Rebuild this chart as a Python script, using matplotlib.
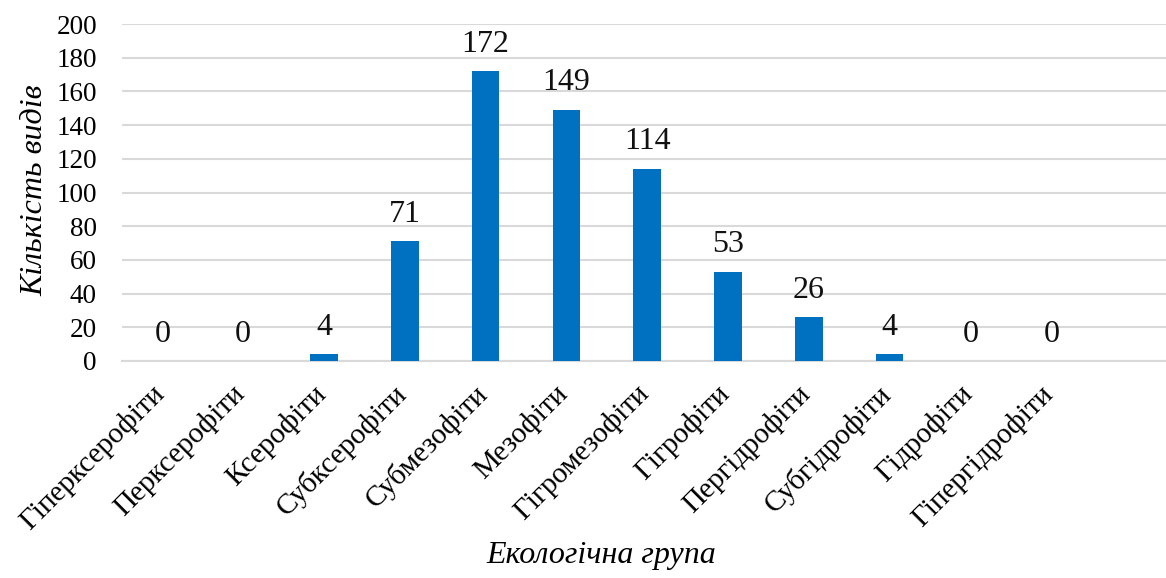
import matplotlib
matplotlib.use("Agg")
import matplotlib.pyplot as plt
from matplotlib.transforms import ScaledTranslation

categories = ["Гіперксерофіти", "Перксерофіти", "Ксерофіти", "Субксерофіти",
              "Субмезофіти", "Мезофіти", "Гігромезофіти", "Гігрофіти",
              "Пергідрофіти", "Субгідрофіти", "Гідрофіти", "Гіпергідрофіти"]
counts = [0, 0, 4, 71, 172, 149, 114, 53, 26, 4, 0, 0]
y_ticks = [0, 20, 40, 60, 80, 100, 120, 140, 160, 180, 200]

plt.rcParams["font.family"] = ["Liberation Serif", "DejaVu Serif"]

W, H = 1166, 578
fig = plt.figure(figsize=(W / 100, H / 100), dpi=100)
ax = fig.add_axes([122 / W, 1 - 361 / H, (W - 122) / W, (361 - 24) / H])

x = list(range(len(categories)))
ax.bar(x, counts, width=0.34, color="#0070C0", zorder=3)

for xi, v in zip(x, counts):
    ax.annotate(str(v), (xi, v), xytext=(0, 9), textcoords="offset points",
                ha="center", va="bottom", fontsize=23, color="#111111")

ax.set_xlim(-0.5, 12.42)
ax.set_ylim(0, 200)
ax.set_yticks(y_ticks)
ax.set_yticklabels([str(t) for t in y_ticks], fontsize=19.5)
ax.set_xticks(x)
ax.set_xticklabels(categories, rotation=45, ha="right", rotation_mode="anchor",
                   fontsize=21)
ax.tick_params(axis="both", length=0)
ax.tick_params(axis="y", pad=18)
ax.tick_params(axis="x", pad=16)

# nudge the slanted category names a little left and up
shift = ScaledTranslation(-12 / 100, 3 / 100, fig.dpi_scale_trans)
for lbl in ax.get_xticklabels():
    lbl.set_transform(lbl.get_transform() + shift)

ax.grid(axis="y", color="#D9D9D9", linewidth=1.5, zorder=0)
for s in ["top", "right", "left"]:
    ax.spines[s].set_visible(False)
ax.spines["bottom"].set_color("#D9D9D9")
ax.spines["bottom"].set_linewidth(1.5)

fig.text(35 / W, 1 - 190 / H, "Кількість видів", rotation=90, ha="center",
         va="center", fontsize=23, style="italic")
fig.text(601 / W, 1 - 556 / H, "Екологічна група", ha="center", va="center",
         fontsize=23, style="italic")

fig.savefig("out.png", dpi=100)
